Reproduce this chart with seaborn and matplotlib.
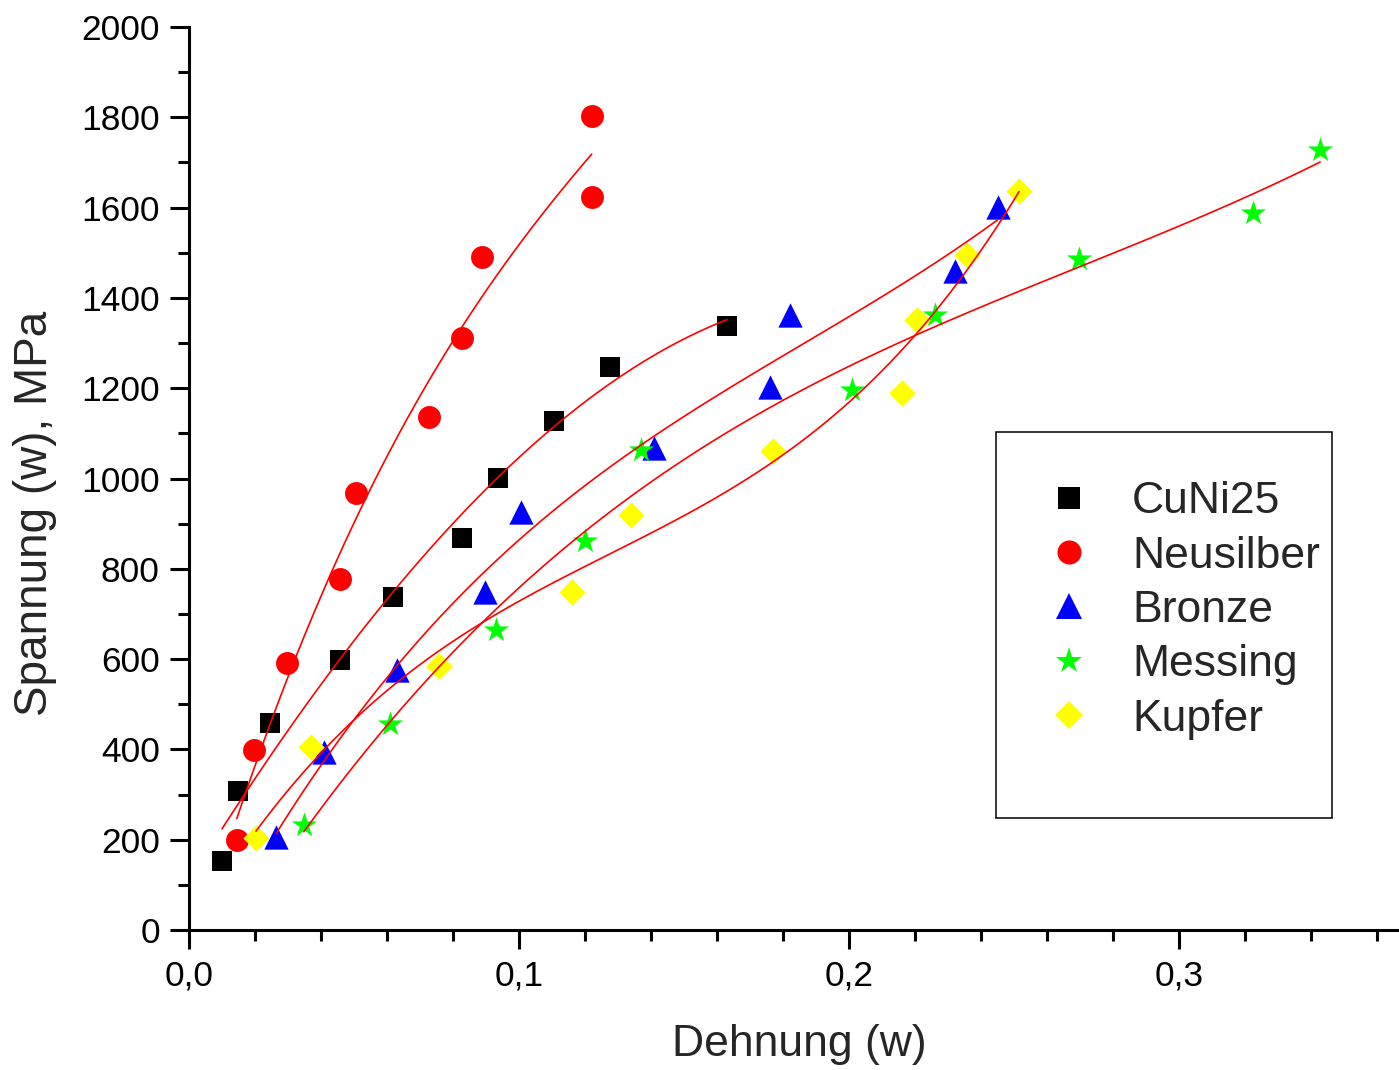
import matplotlib
matplotlib.use("Agg")
import matplotlib.pyplot as plt
import seaborn as sns
import numpy as np
import pandas as pd
from matplotlib.ticker import MultipleLocator, FuncFormatter
from matplotlib.patches import Rectangle

# ---- data ----
series_names = ["CuNi25", "Neusilber", "Bronze", "Messing", "Kupfer"]

cuni25_x = [0.0100, 0.0148, 0.0245, 0.0458, 0.0618, 0.0827, 0.0936, 0.1106, 0.1276, 0.1630]
cuni25_y = [153, 308, 458, 598, 738, 868, 1001, 1127, 1247, 1338]

neusilber_x = [0.0145, 0.0197, 0.0297, 0.0458, 0.0506, 0.0727, 0.0827, 0.0888, 0.1220, 0.1220]
neusilber_y = [199, 399, 591, 777, 968, 1136, 1311, 1491, 1623, 1803]

bronze_x = [0.0264, 0.0410, 0.0630, 0.0897, 0.1006, 0.1410, 0.1760, 0.1820, 0.2320, 0.2450]
bronze_y = [206, 394, 576, 749, 926, 1068, 1203, 1362, 1460, 1601]

messing_x = [0.0348, 0.0610, 0.0930, 0.1200, 0.1370, 0.2010, 0.2260, 0.2697, 0.3224, 0.3427]
messing_y = [233, 456, 664, 862, 1063, 1196, 1362, 1486, 1588, 1728]

kupfer_x = [0.0203, 0.0370, 0.0758, 0.1160, 0.1340, 0.1770, 0.2160, 0.2206, 0.2358, 0.2515]
kupfer_y = [204, 405, 585, 749, 919, 1061, 1189, 1351, 1495, 1637]

xs = [cuni25_x, neusilber_x, bronze_x, messing_x, kupfer_x]
ys = [cuni25_y, neusilber_y, bronze_y, messing_y, kupfer_y]

# ---- styles ----
colors = ["#000000", "#ff0000", "#0000ff", "#00ff00", "#ffff00"]
markers = ["s", "o", "^", "*", "D"]
msizes = [14.5, 16.5, 17.5, 19.0, 13.5]   # marker size in points
fit_orders = [3, 3, 3, 3, 3]

sns.set_theme(style="ticks")
plt.rcParams['font.family'] = ['Liberation Sans', 'DejaVu Sans']

fig = plt.figure(figsize=(13.99, 10.70), dpi=100)
ax = fig.add_axes([189/1399, (1070-930)/1070, 1208/1399, 903/1070])

handles = []
for name, x, y, c, m, ms in zip(series_names, xs, ys, colors, markers, msizes):
    df = pd.DataFrame({"x": x, "y": y})
    sns.scatterplot(data=df, x="x", y="y", ax=ax, marker=m, color=c,
                    s=ms**2, linewidth=0, zorder=2, legend=False)
    handles.append(plt.Line2D([], [], linestyle="none", marker=m, color=c,
                              markersize=ms * 1.05, markeredgewidth=0, label=name))

for x, y, o in zip(xs, ys, fit_orders):
    df = pd.DataFrame({"x": x, "y": y})
    sns.regplot(data=df, x="x", y="y", ax=ax, order=o, ci=None, scatter=False,
                truncate=True, line_kws=dict(color="#ff0000", lw=1.2, zorder=3))

ax.set_xlim(0, 0.366)
ax.set_ylim(0, 2000)
ax.xaxis.set_major_locator(MultipleLocator(0.1))
ax.xaxis.set_minor_locator(MultipleLocator(0.02))
ax.yaxis.set_major_locator(MultipleLocator(200))
ax.yaxis.set_minor_locator(MultipleLocator(100))
ax.xaxis.set_major_formatter(FuncFormatter(lambda v, p: f"{v:.1f}".replace(".", ",")))
ax.yaxis.set_major_formatter(FuncFormatter(lambda v, p: f"{int(round(v))}"))

for s in ["top", "right"]:
    ax.spines[s].set_visible(False)
for s in ["left", "bottom"]:
    ax.spines[s].set_linewidth(2.2)
    ax.spines[s].set_color("black")

ax.tick_params(axis="both", which="major", direction="out", length=14, width=2.2,
               labelsize=25.5, pad=7, colors="black")
ax.tick_params(axis="both", which="minor", direction="out", length=8, width=2.2,
               colors="black")

ax.set_xlabel("Dehnung (w)", fontsize=32, va="center", ha="center")
ax.xaxis.set_label_coords(0.505, -0.127)
ax.set_ylabel("Spannung (w), MPa", fontsize=33, va="center", ha="center")
ax.yaxis.set_label_coords(-0.1275, 0.461)

# legend frame and entries
ax.add_patch(Rectangle((0.668, 0.124), 0.278, 0.4275, transform=ax.transAxes,
                       fill=False, edgecolor="black", lw=1.1, zorder=5))
leg = ax.legend(handles=handles, loc="upper left", bbox_to_anchor=(0.710, 0.497),
                frameon=False, fontsize=32, handletextpad=0.92, labelspacing=0.30,
                handlelength=1.0, borderpad=0, borderaxespad=0)

fig.savefig("out.png", dpi=100)
